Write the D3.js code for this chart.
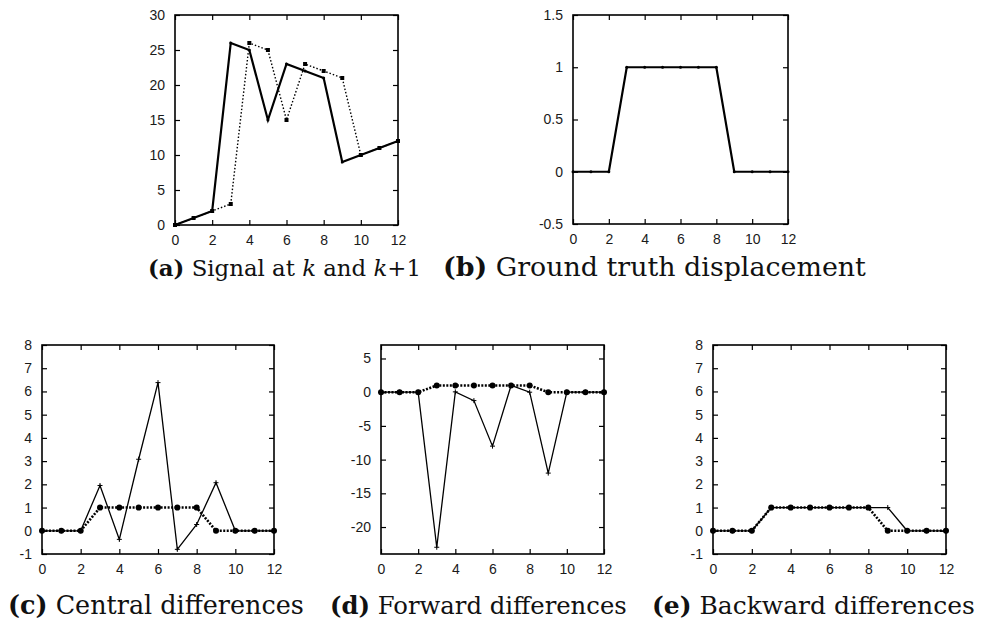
<!DOCTYPE html>
<html>
<head>
<meta charset="utf-8">
<script src="https://cdn.jsdelivr.net/npm/d3@7"></script>
<style>
  body { margin: 0; background: #fff; }
</style>
</head>
<body>
<div id="chart"></div>
<script>
(function() {
  var width = 981, height = 626;

  // sample positions
  var xs = [0, 1, 2, 3, 4, 5, 6, 7, 8, 9, 10, 11, 12];
  var xTicks = [0, 2, 4, 6, 8, 10, 12];

  // (a) signal at k and k+1
  var signalK  = [0, 1, 2, 26, 25, 15, 23, 22, 21, 9, 10, 11, 12];
  var signalK1 = [0, 1, 2, 3, 26, 25, 15, 23, 22, 21, 10, 11, 12];

  // (b) ground truth displacement (also the dotted line in c, d, e)
  var groundTruth = [0, 0, 0, 1, 1, 1, 1, 1, 1, 0, 0, 0, 0];

  // estimates
  var centralDiff  = [0, 0, 0, 1.95, -0.37, 3.08, 6.38, -0.8, 0.27, 2.07, 0, 0, 0];
  var forwardDiff  = [0, 0, 0, -23, 0.05, -1.25, -8, 1, 0, -12, 0, 0, 0];
  var backwardDiff = [0, 0, 0, 1, 1, 1, 1, 1, 1, 1, 0, 0, 0];

  var ticksA = [0, 5, 10, 15, 20, 25, 30];
  var ticksB = [-0.5, 0, 0.5, 1, 1.5];
  var ticksC = [-1, 0, 1, 2, 3, 4, 5, 6, 7, 8];
  var ticksD = [-20, -15, -10, -5, 0, 5];

  var tickFont = "'Liberation Sans', Arial, Helvetica, sans-serif";
  var captionFont = "'DejaVu Serif', serif";

  var svg = d3.select("#chart")
    .append("svg")
    .attr("width", width)
    .attr("height", height);

  function panel(box, yDomain, yTicks, series) {
    var g = svg.append("g")
      .attr("transform", "translate(" + box.left + "," + box.top + ")");
    var w = box.right - box.left, h = box.bottom - box.top;

    var x = d3.scaleLinear().domain([0, 12]).range([0, w]);
    var y = d3.scaleLinear().domain(yDomain).range([h, 0]);

    // inward ticks, mirrored like gnuplot
    g.append("g").attr("class", "axis")
      .attr("transform", "translate(0," + h + ")")
      .call(d3.axisBottom(x).tickValues(xTicks).tickSize(-5).tickPadding(10).tickFormat(d3.format("d")));
    g.append("g").attr("class", "axis")
      .call(d3.axisTop(x).tickValues(xTicks).tickSize(-5).tickFormat(""));
    g.append("g").attr("class", "axis")
      .call(d3.axisLeft(y).tickValues(yTicks).tickSize(-5).tickPadding(10).tickFormat(function(d) { return String(d); }));
    g.append("g").attr("class", "axis")
      .attr("transform", "translate(" + w + ",0)")
      .call(d3.axisRight(y).tickValues(yTicks).tickSize(-5).tickFormat(""));

    g.selectAll(".axis")
      .attr("font-family", tickFont)
      .attr("font-size", 14);
    g.selectAll(".axis text").attr("fill", "#1a1a1a");
    g.selectAll(".axis .domain").remove();
    g.selectAll(".axis line").attr("stroke", "#000").attr("stroke-width", 1.2);

    g.append("rect")
      .attr("width", w).attr("height", h)
      .attr("fill", "none").attr("stroke", "#000").attr("stroke-width", 1.6);

    var line = d3.line()
      .x(function(d, i) { return x(xs[i]); })
      .y(function(d) { return y(d); });

    series.forEach(function(s) {
      g.append("path")
        .datum(s.values)
        .attr("d", line)
        .attr("fill", "none")
        .attr("stroke", "#000")
        .attr("stroke-width", s.width)
        .attr("stroke-dasharray", s.dash || null);

      if (s.marker == "square") {
        g.selectAll(null).data(s.values).enter().append("rect")
          .attr("x", function(d, i) { return x(xs[i]) - s.size / 2; })
          .attr("y", function(d) { return y(d) - s.size / 2; })
          .attr("width", s.size).attr("height", s.size)
          .attr("fill", "#000");
      } else if (s.marker == "dot") {
        g.selectAll(null).data(s.values).enter().append("circle")
          .attr("cx", function(d, i) { return x(xs[i]); })
          .attr("cy", function(d) { return y(d); })
          .attr("r", s.size / 2)
          .attr("fill", "#000");
      } else if (s.marker == "plus") {
        g.selectAll(null).data(s.values).enter().append("path")
          .attr("d", function(d, i) {
            var cx = x(xs[i]), cy = y(d), r = s.size / 2;
            return "M" + (cx - r) + "," + cy + "H" + (cx + r) + "M" + cx + "," + (cy - r) + "V" + (cy + r);
          })
          .attr("stroke", "#000").attr("stroke-width", 1);
      }
    });
  }

  panel({ left: 175, right: 398, top: 15, bottom: 225 }, [0, 30], ticksA, [
    { values: signalK1, width: 1.4, dash: "1.5,2", marker: "square", size: 4 },
    { values: signalK, width: 2.2, marker: "dot", size: 3 }
  ]);
  panel({ left: 573, right: 788, top: 15, bottom: 224 }, [-0.5, 1.5], ticksB, [
    { values: groundTruth, width: 2.2, marker: "dot", size: 3 }
  ]);
  panel({ left: 42, right: 274, top: 345, bottom: 554 }, [-1, 8], ticksC, [
    { values: groundTruth, width: 2.6, dash: "2,1.5", marker: "dot", size: 6 },
    { values: centralDiff, width: 1.3, marker: "plus", size: 5 }
  ]);
  panel({ left: 381, right: 604, top: 345, bottom: 554 }, [-24, 7], ticksD, [
    { values: groundTruth, width: 2.6, dash: "2,1.5", marker: "dot", size: 6 },
    { values: forwardDiff, width: 1.3, marker: "plus", size: 5 }
  ]);
  panel({ left: 713, right: 946, top: 345, bottom: 554 }, [-1, 8], ticksC, [
    { values: groundTruth, width: 2.6, dash: "2,1.5", marker: "dot", size: 6 },
    { values: backwardDiff, width: 1.3, marker: "plus", size: 5 }
  ]);

  // sub-captions: [label, parts, left edge, right edge, baseline]
  var captions = [
    ["(a)", [["Signal at ", ""], ["k", "italic"], [" and ", ""], ["k", "italic"], ["+1", ""]], 148, 421, 276],
    ["(b)", [["Ground truth displacement", ""]], 443, 866, 276],
    ["(c)", [["Central differences", ""]], 8, 304, 614],
    ["(d)", [["Forward differences", ""]], 330, 627, 614],
    ["(e)", [["Backward differences", ""]], 652, 975, 614]
  ];

  captions.forEach(function(c) {
    var t = svg.append("text")
      .attr("font-family", captionFont)
      .attr("fill", "#111")
      .attr("y", c[4]).attr("font-size", 20);
    t.append("tspan").attr("font-weight", "bold").text(c[0]);
    t.append("tspan").text(" ");
    c[1].forEach(function(p) {
      t.append("tspan").attr("font-style", p[1] || null).text(p[0]);
    });
    // fit text to the caption width seen in the original
    var target = c[3] - c[2];
    var len = t.node().getComputedTextLength();
    t.attr("font-size", 20 * target / len).attr("x", c[2]);
  });
})();
</script>
</body>
</html>
